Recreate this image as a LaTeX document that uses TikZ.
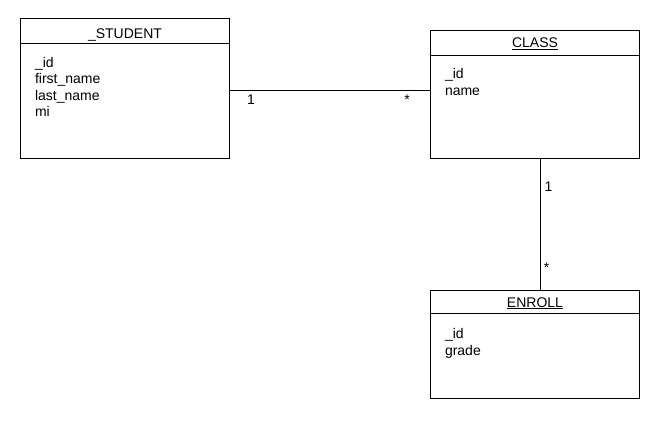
\documentclass[tikz,border=0pt]{standalone}
\usepackage{fontspec}
\setmainfont{Liberation Sans}
\usetikzlibrary{calc,positioning}

\begin{document}
\begin{tikzpicture}[x=1pt, y=-1pt, line width=1pt, font=\fontsize{14}{16.5}\selectfont,
		entity/.style={draw, anchor=north west, minimum width=209pt, inner sep=0pt},
		title/.style={anchor=base, inner sep=0pt},
		attrs/.style={anchor=base west, align=left, inner sep=0pt},
		mult/.style={anchor=base, inner sep=0pt}]
		\useasboundingbox (0,0) rectangle (660,420);
		\node[entity, minimum height=140pt] (student) at (20,18) {};
		\node[entity, minimum height=128pt] (class) at (430,30) {};
		\node[entity, minimum height=108pt] (enroll) at (430,290) {};
		% header separators
		\draw ([yshift=-25.5pt]student.north west) -- ([yshift=-25.5pt]student.north east);
		\draw ([yshift=-25.5pt]class.north west) -- ([yshift=-25.5pt]class.north east);
		\draw ([yshift=-23.5pt]enroll.north west) -- ([yshift=-23.5pt]enroll.north east);
		% names
		\node[title] (studentname) at ($(student.north)+(0,21)$) {\_STUDENT};
		\node[title] (classname) at ($(class.north)+(0,17.5)$) {\underline{CLASS}};
		\node[title] (enrollname) at ($(enroll.north)+(0,17)$) {\underline{ENROLL}};
		% fields (base = last line)
		\node[attrs] (studentattrs) at ($(student.north west)+(14.5,98.5)$) {\_id\\first\_name\\last\_name\\mi};
		\node[attrs] (classattrs) at ($(class.north west)+(14.5,65)$) {\_id\\name};
		\node[attrs] (enrollattrs) at ($(enroll.north west)+(14.5,65)$) {\_id\\grade};
		% associations
		\coordinate (sc) at ([yshift=-1.7pt]student.east);
		\coordinate (ce) at ([xshift=5pt]class.south);
		\draw (sc) -- (sc -| class.west);
		\draw (ce) -- (ce |- enroll.north);
		\node[mult] (scone) at (251,104) {1};
		\node[mult] (scmany) at (407,104) {*};
		\node[mult] (ceone) at (548.5,191) {1};
		\node[mult] (cemany) at (546.5,272) {*};
	\end{tikzpicture}
\end{document}
